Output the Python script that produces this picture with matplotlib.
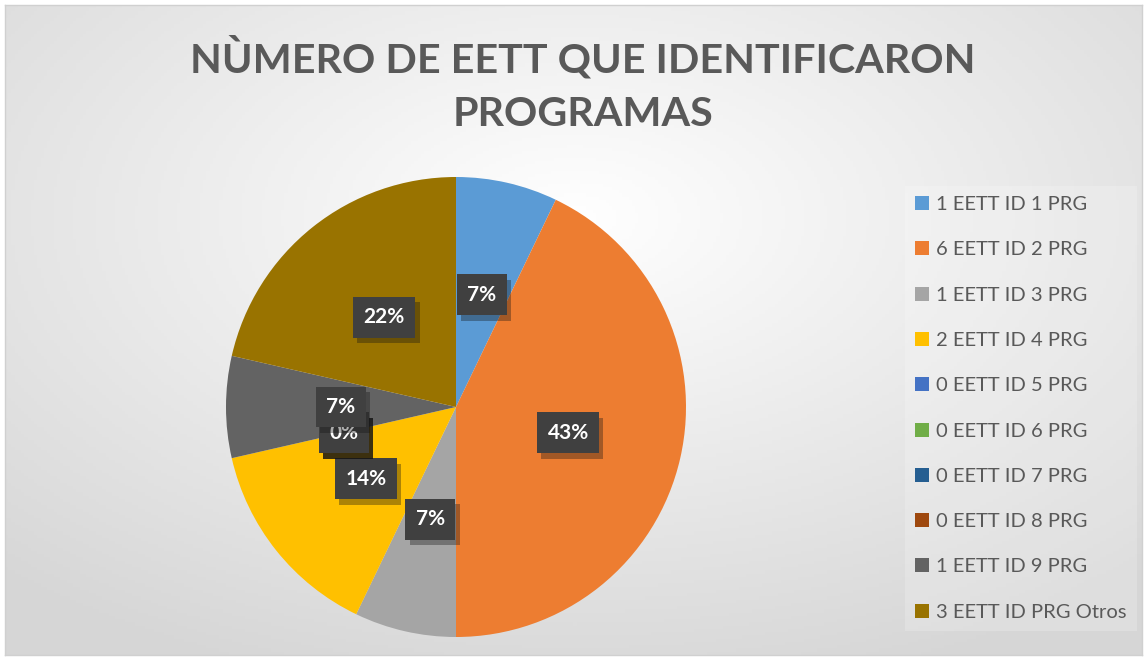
import matplotlib.pyplot as plt
import matplotlib.patheffects as pe
import numpy as np

plt.rcParams['font.family'] = ['Lato', 'DejaVu Sans']

# data
categories = ['1 EETT ID 1 PRG', '6 EETT ID 2 PRG', '1 EETT ID 3 PRG', '2 EETT ID 4 PRG',
              '0 EETT ID 5 PRG', '0 EETT ID 6 PRG', '0 EETT ID 7 PRG', '0 EETT ID 8 PRG',
              '1 EETT ID 9 PRG', '3 EETT ID PRG Otros']
values = [1, 6, 1, 2, 0, 0, 0, 0, 1, 3]
pct_labels = ['7%', '43%', '7%', '14%', '0%', '0%', '0%', '0%', '7%', '22%']
colors = ['#5b9bd5', '#ed7d31', '#a5a5a5', '#ffc000', '#4472c4', '#70ad47',
          '#255e91', '#9e480e', '#636363', '#997300']

W, H = 1147, 660
fig = plt.figure(figsize=(W / 100, H / 100), dpi=100)
fig.patch.set_facecolor('white')

# radial gradient background
bg = fig.add_axes([5 / W, 5 / H, 1 - 10 / W, 1 - 10 / H])
yy, xx = np.mgrid[0:200, 0:350]
cx, cy = 175, 65
d = np.sqrt(((xx - cx) / 350) ** 2 + ((yy - cy) / 200) ** 2)
d = np.clip(d / 0.75, 0, 1)
shade = 1.0 - 0.16 * d
bg.imshow(np.dstack([shade, shade, shade]), aspect='auto', extent=[0, 1, 0, 1], origin='upper')
bg.set_xticks([])
bg.set_yticks([])
for s in bg.spines.values():
    s.set_color('#d0d0d0')
    s.set_linewidth(1)

fig.text(583 / W, 1 - 58 / H, 'NÙMERO DE EETT QUE IDENTIFICARON', ha='center', va='center',
         fontsize=29.7, fontweight='bold', color='#595959')
fig.text(583 / W, 1 - 115 / H, 'PROGRAMAS', ha='center', va='center',
         fontsize=29.7, fontweight='bold', color='#595959')

# pie
cxp, cyp, r = 456, 407, 230
ax = fig.add_axes([(cxp - r) / W, (H - cyp - r) / H, 2 * r / W, 2 * r / H])
wedges, _ = ax.pie(values, colors=colors, startangle=90, counterclock=False, radius=1)
ax.set_xlim(-1, 1)
ax.set_ylim(-1, 1)

for w, lab in zip(wedges, pct_labels):
    ang = np.deg2rad((w.theta1 + w.theta2) / 2)
    x, y = 0.5 * np.cos(ang), 0.5 * np.sin(ang)
    t = ax.text(x, y, lab, ha='center', va='center', fontsize=15, fontweight='bold',
                color='white',
                bbox=dict(boxstyle='square,pad=0.5', facecolor='#404040', edgecolor='none'))
    t.get_bbox_patch().set_path_effects([pe.withSimplePatchShadow(offset=(3, -4), alpha=0.35),
                                         pe.Normal()])

leg = fig.legend(wedges, categories, loc='upper left', bbox_to_anchor=(905 / W, 1 - 186 / H),
                 frameon=True, fontsize=14.5, labelcolor='#595959', handlelength=0.7,
                 handleheight=0.7, handletextpad=0.35, labelspacing=1.4, borderpad=0.5,
                 borderaxespad=0, fancybox=False)
leg.get_frame().set_facecolor('white')
leg.get_frame().set_alpha(0.2)
leg.get_frame().set_edgecolor('none')

fig.savefig('out.png', dpi=100)
